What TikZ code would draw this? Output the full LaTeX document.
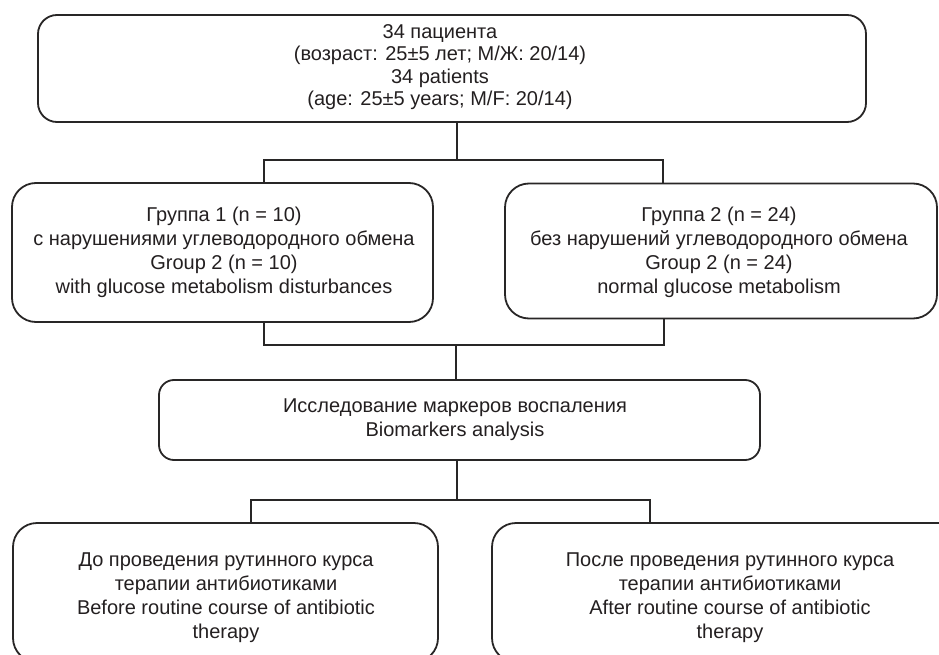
\documentclass[tikz,border=0pt]{standalone}
\usepackage{fontspec}
\setmainfont{Liberation Sans}
\begin{document}
\begin{tikzpicture}[x=1pt,y=1pt,
  ink/.style={color={rgb,255:red,35;green,31;blue,32}},
  box/.style={draw={rgb,255:red,40;green,38;blue,38}, line width=1.8pt, rectangle, inner sep=0pt},
  link/.style={draw={rgb,255:red,40;green,38;blue,38}, line width=2.6pt, line cap=rect},
  txt/.style={ink, align=center, inner sep=0pt, font=\fontsize{20}{24}\selectfont}
]
\useasboundingbox (0,0) rectangle (939,-655);
\clip (0,0) rectangle (939,-655);

% boxes
\node[box, minimum width=828, minimum height=107, rounded corners=19] (top) at (452,-68.5) {};
\node[box, minimum width=421, minimum height=139, rounded corners=24] (g1) at (222.5,-252.5) {};
\node[box, minimum width=432, minimum height=135, rounded corners=24] (g2) at (721,-251) {};
\node[box, minimum width=601, minimum height=80, rounded corners=15] (bio) at (459.5,-420) {};
\node[box, minimum width=425, minimum height=139, rounded corners=24] (before) at (225.5,-592.5) {};
\node[box, minimum width=476, minimum height=139, rounded corners=24] (after) at (730,-592.5) {};

% texts
\node[txt, font=\fontsize{20}{22.4}\selectfont] (topt) at (440,-67)
  {34 пациента\\(возраст: 25±5 лет; М/Ж: 20/14)\\34 patients\\(age: 25±5 years; M/F: 20/14)};
\node[txt] (g1t) at (224,-252.5)
  {Группа 1 (n = 10)\\с нарушениями углеводородного обмена\\Group 2 (n = 10)\\with glucose metabolism disturbances};
\node[txt] (g2t) at (719,-252.5)
  {Группа 2 (n = 24)\\без нарушений углеводородного обмена\\Group 2 (n = 24)\\normal glucose metabolism};
\node[txt] (biot) at (455,-420)
  {Исследование маркеров воспаления\\Biomarkers analysis};
\node[txt] (beforet) at (226,-597.5)
  {До проведения рутинного курса\\терапии антибиотиками\\Before routine course of antibiotic\\therapy};
\node[txt] (aftert) at (730,-597.5)
  {После проведения рутинного курса\\терапии антибиотиками\\After routine course of antibiotic\\therapy};

% junction points
\coordinate (j1) at (457,-160);
\coordinate (j1L) at (264,-160);
\coordinate (j1R) at (663,-160);
\coordinate (j2) at (456,-345);
\coordinate (j2L) at (264,-345);
\coordinate (j2R) at (664,-345);
\coordinate (j3) at (457,-500);
\coordinate (j3L) at (251,-500);
\coordinate (j3R) at (650,-500);

% connectors
\draw[link] (top.south -| j1) -- (j1);
\draw[link] (g1.north -| j1L) -- (j1L) -- (j1R) -- (g2.north -| j1R);
\draw[link] (g1.south -| j2L) -- (j2L) -- (j2R) -- (g2.south -| j2R);
\draw[link] (j2) -- (bio.north -| j2);
\draw[link] (bio.south -| j3) -- (j3);
\draw[link] (before.north -| j3L) -- (j3L) -- (j3R) -- (after.north -| j3R);
\end{tikzpicture}
\end{document}
